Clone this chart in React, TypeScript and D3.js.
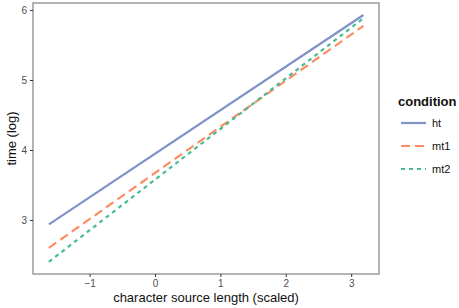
import React from "react";
import * as d3 from "d3";

const conditions = ["ht", "mt1", "mt2"];
const colors = ["#7f93c9", "#fc8d62", "#47bb94"];
const dashes = ["none", "9 5", "4 4"];
const xRange = [-1.63, 3.18];
const htValues = [2.946, 5.936];
const mt1Values = [2.61, 5.78];
const mt2Values = [2.41, 5.89];
const xTicks = [-1, 0, 1, 2, 3];
const yTicks = [3, 4, 5, 6];

const W = 459;
const H = 308;
const M = { left: 33, top: 3, right: 379, bottom: 274 };

export default function App() {
  const x = d3.scaleLinear().domain([-1.873, 3.418]).range([M.left, M.right]);
  const y = d3.scaleLinear().domain([2.236, 6.107]).range([M.bottom, M.top]);
  const line = d3
    .line<number[]>()
    .x((d) => x(d[0]))
    .y((d) => y(d[1]));
  const series = [htValues, mt1Values, mt2Values];
  const font = "Liberation Sans, Arial, sans-serif";

  return (
    <svg
      width={W}
      height={H}
      style={{ position: "absolute", left: 0, top: 0 }}
      fontFamily={font}
    >
      <rect width={W} height={H} fill="white" />
      {series.map((vals, i) => (
        <path
          key={conditions[i]}
          d={line(xRange.map((xv, j) => [xv, vals[j]])) || ""}
          fill="none"
          stroke={colors[i]}
          strokeWidth={2.2}
          strokeDasharray={dashes[i]}
        />
      ))}
      <rect
        x={M.left}
        y={M.top}
        width={M.right - M.left}
        height={M.bottom - M.top}
        fill="none"
        stroke="#8c8c8c"
        strokeWidth={1.3}
      />
      {xTicks.map((t) => (
        <g key={t} transform={`translate(${x(t)},${M.bottom})`}>
          <line y2={3} stroke="#333" strokeWidth={1} />
          <text y={13} textAnchor="middle" fontSize={10} fill="#4d4d4d">
            {t < 0 ? `\u2212${-t}` : t}
          </text>
        </g>
      ))}
      {yTicks.map((t) => (
        <g key={t} transform={`translate(${M.left},${y(t)})`}>
          <line x2={-3} stroke="#333" strokeWidth={1} />
          <text x={-6} dy="0.35em" textAnchor="end" fontSize={10} fill="#4d4d4d">
            {t}
          </text>
        </g>
      ))}
      <text x={(M.left + M.right) / 2} y={302} textAnchor="middle" fontSize={13} fill="#111">
        character source length (scaled)
      </text>
      <text
        transform={`translate(16,${(M.top + M.bottom) / 2}) rotate(-90)`}
        textAnchor="middle"
        fontSize={13}
        fill="#111"
      >
        time (log)
      </text>
      <text x={398} y={106} fontSize={13} fontWeight="bold" fill="#111">
        condition
      </text>
      {conditions.map((c, i) => (
        <g key={c} transform={`translate(401,${123 + i * 23})`}>
          <line x2={25} stroke={colors[i]} strokeWidth={2.2} strokeDasharray={dashes[i]} />
          <text x={31} dy="0.35em" fontSize={11} fill="#111">
            {c}
          </text>
        </g>
      ))}
    </svg>
  );
}
